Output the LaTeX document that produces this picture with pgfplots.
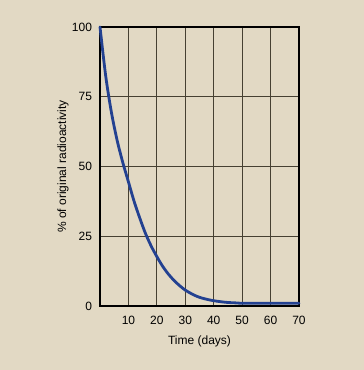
\documentclass[border=0pt]{standalone}
\usepackage{pgfplots}
\pgfplotsset{compat=1.18}
\usepackage{fontspec}
\setmainfont{Liberation Sans}
\definecolor{bg}{RGB}{226,217,196}
\definecolor{curve}{RGB}{35,65,145}
\definecolor{gridc}{RGB}{70,64,50}
\begin{document}
\begin{tikzpicture}[x=1pt,y=1pt]
\fill[bg] (0,0) rectangle (364,370);
\begin{axis}[
  at={(100pt,64pt)}, anchor=south west,
  width=199pt, height=279pt, scale only axis,
  xmin=0, xmax=70, ymin=0, ymax=100,
  xtick={10,20,30,40,50,60,70},
  ytick={0,25,50,75,100},
  grid=major,
  major grid style={gridc, line width=0.9pt},
  axis line style={black, line width=1.6pt},
  major tick length=0pt,
  clip=false,
  font=\fontsize{12}{14}\selectfont,
  /pgf/number format/assume math mode=true,
  xticklabel style={anchor=base, yshift=-19pt},
  yticklabel style={anchor=east, xshift=-4.5pt},
  xlabel={Time (days)},
  ylabel={\% of original radioactivity},
  xlabel style={at={(axis description cs:0.5,0)}, anchor=base, yshift=-38pt},
  ylabel style={at={(axis description cs:0,0.5)}, anchor=base, yshift=34pt},
]
\addplot[curve, line width=2.8pt, smooth, line cap=round] coordinates {
(0,100) (2,82.5) (4,69.5) (6,59.5) (8,51.5) (10,44.5) (12,37.5) (14,31.5)
(16,26) (18,21.5) (20,17.7) (22,14.3) (24,11.5) (26,9.2) (28,7.3) (30,5.7)
(32,4.5) (34,3.5) (36,2.8) (38,2.3) (40,1.9) (42,1.6) (44,1.35) (46,1.2)
(48,1.1) (50,1.0) (60,1.0) (70,1.0)
};
\end{axis}
\end{tikzpicture}
\end{document}
